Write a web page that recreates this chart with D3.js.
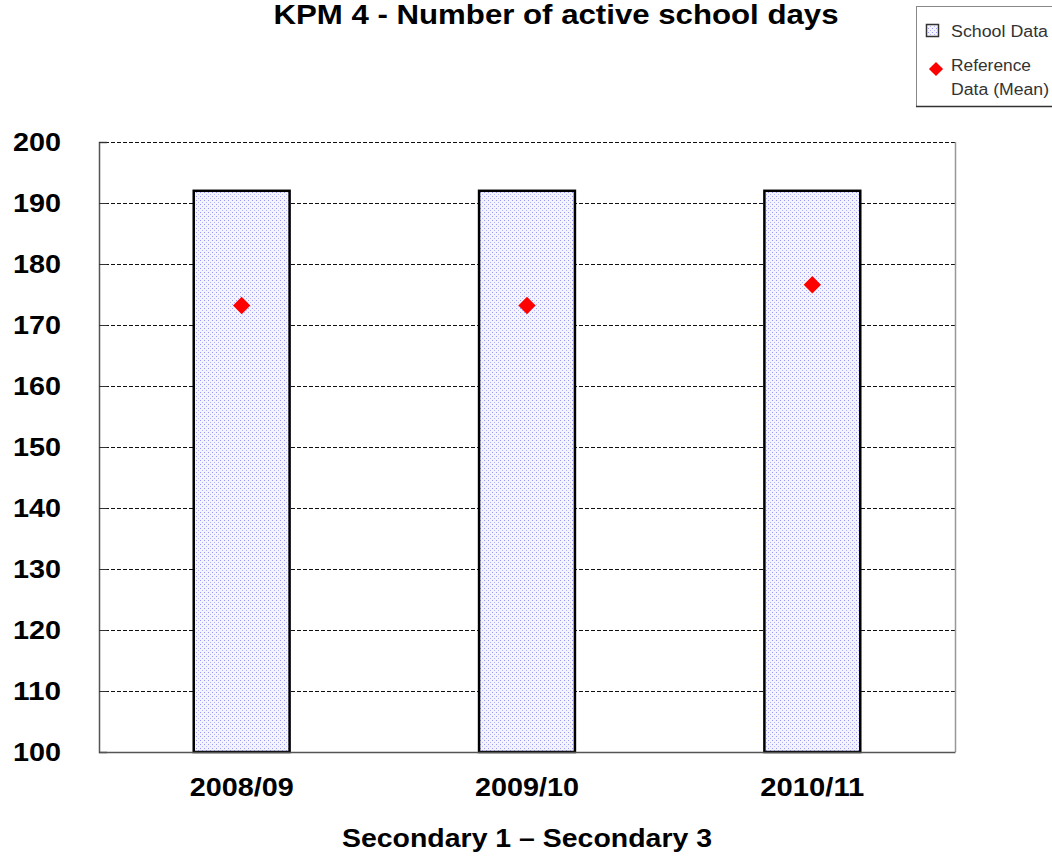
<!DOCTYPE html>
<html>
<head>
<meta charset="utf-8">
<script src="https://cdn.jsdelivr.net/npm/d3@7"></script>
<style>
  body { margin: 0; background: #fff; }
  text { font-family: Arial, "Liberation Sans", sans-serif; }
</style>
</head>
<body>
<div id="chart"></div>
<script>
const width = 1052;
const height = 856;
const margins = { top: 142, left: 99, bottom: 104, right: 97 };

// data
const years = ['2008/09', '2009/10', '2010/11'];
const schoolDays = [192, 192, 192];
const referenceMean = [173.2, 173.2, 176.6];
const yTicks = [100, 110, 120, 130, 140, 150, 160, 170, 180, 190, 200];

const svg = d3.select('#chart')
    .append('svg')
    .attr('width', width)
    .attr('height', height);

// dotted fill for the bars
const defs = svg.append('defs');
const pattern = defs.append('pattern')
    .attr('id', 'dots')
    .attr('patternUnits', 'userSpaceOnUse')
    .attr('width', 4)
    .attr('height', 4);
pattern.append('rect').attr('width', 4).attr('height', 4).attr('fill', '#f4f4ff');
pattern.append('rect').attr('x', 0).attr('y', 0).attr('width', 1).attr('height', 1).attr('fill', '#9a9af5');
pattern.append('rect').attr('x', 2).attr('y', 2).attr('width', 1).attr('height', 1).attr('fill', '#b4b4f8');

const x = d3.scaleBand()
    .domain(years)
    .range([margins.left, width - margins.right])
    .paddingInner(0.664)
    .paddingOuter(0.332);

const y = d3.scaleLinear()
    .domain([100, 200])
    .range([height - margins.bottom, margins.top]);

// grid lines
svg.append('g')
    .selectAll('line')
    .data(yTicks.slice(1))
    .enter()
    .append('line')
    .attr('x1', margins.left)
    .attr('x2', width - margins.right)
    .attr('y1', d => y(d) + 0.5)
    .attr('y2', d => y(d) + 0.5)
    .attr('stroke', '#111')
    .attr('stroke-width', 1)
    .attr('stroke-dasharray', '4,2');

// right border
svg.append('line')
    .attr('x1', width - margins.right + 0.5)
    .attr('x2', width - margins.right + 0.5)
    .attr('y1', margins.top)
    .attr('y2', height - margins.bottom)
    .attr('stroke', '#999')
    .attr('stroke-width', 1.5);

// bars
svg.append('g')
    .selectAll('rect')
    .data(years)
    .enter()
    .append('rect')
    .attr('x', d => x(d))
    .attr('y', (d, i) => y(schoolDays[i]))
    .attr('width', x.bandwidth())
    .attr('height', (d, i) => y(100) - y(schoolDays[i]))
    .attr('fill', 'url(#dots)')
    .attr('stroke', '#000')
    .attr('stroke-width', 2.5);

// reference diamonds
svg.append('g')
    .selectAll('path')
    .data(years)
    .enter()
    .append('path')
    .attr('d', d3.symbol().type(d3.symbolSquare).size(150))
    .attr('transform', (d, i) => `translate(${x(d) + x.bandwidth() / 2},${y(referenceMean[i])}) rotate(45)`)
    .attr('fill', '#ff0000');

// y axis
const yAxis = svg.append('g')
    .attr('transform', `translate(${margins.left},0)`)
    .call(d3.axisLeft(y).tickValues(yTicks).tickSize(-8).tickPadding(38));
yAxis.select('.domain').attr('stroke', '#555').attr('stroke-width', 1.5);
yAxis.selectAll('.tick line').attr('stroke', '#333');
yAxis.selectAll('text')
    .attr('font-size', '26px')
    .attr('font-weight', 'bold')
    .attr('fill', '#000')
    .attr('textLength', 48)
    .attr('lengthAdjust', 'spacingAndGlyphs');

// x axis
const xAxis = svg.append('g')
    .attr('transform', `translate(0,${height - margins.bottom})`)
    .call(d3.axisBottom(x).tickSize(0).tickPadding(26));
xAxis.select('.domain').attr('stroke', '#555').attr('stroke-width', 1.5);
xAxis.selectAll('text')
    .attr('font-size', '26px')
    .attr('font-weight', 'bold')
    .attr('fill', '#000')
    .attr('textLength', 104)
    .attr('lengthAdjust', 'spacingAndGlyphs');

// titles
svg.append('text')
    .attr('x', 556)
    .attr('y', 23.5)
    .attr('text-anchor', 'middle')
    .attr('font-size', '28px')
    .attr('font-weight', 'bold')
    .attr('textLength', 565)
    .attr('lengthAdjust', 'spacingAndGlyphs')
    .text('KPM 4 - Number of active school days');

svg.append('text')
    .attr('x', 527)
    .attr('y', 847)
    .attr('text-anchor', 'middle')
    .attr('font-size', '26px')
    .attr('font-weight', 'bold')
    .attr('textLength', 370)
    .attr('lengthAdjust', 'spacingAndGlyphs')
    .text('Secondary 1 \u2013 Secondary 3');

// legend
const legend = svg.append('g').attr('id', 'legend');
legend.append('rect')
    .attr('x', 916.5)
    .attr('y', 6.5)
    .attr('width', 150)
    .attr('height', 100)
    .attr('fill', '#fff')
    .attr('stroke', '#888')
    .attr('stroke-width', 1);
legend.append('line')
    .attr('x1', 916).attr('x2', 1052)
    .attr('y1', 106.5).attr('y2', 106.5)
    .attr('stroke', '#333').attr('stroke-width', 1.5);
legend.append('rect')
    .attr('x', 926.5)
    .attr('y', 24.5)
    .attr('width', 12)
    .attr('height', 12)
    .attr('fill', 'url(#dots)')
    .attr('stroke', '#333')
    .attr('stroke-width', 1.5);

const legendLabels = [
    { text: 'School Data', y: 37, len: 97 },
    { text: 'Reference', y: 71, len: 80 },
    { text: 'Data (Mean)', y: 95, len: 98 }
];
legend.selectAll('text.lbl')
    .data(legendLabels)
    .enter()
    .append('text')
    .attr('class', 'lbl')
    .attr('x', 951)
    .attr('y', d => d.y)
    .attr('font-size', '16px')
    .attr('fill', '#333')
    .attr('textLength', d => d.len)
    .attr('lengthAdjust', 'spacingAndGlyphs')
    .text(d => d.text);

legend.append('path')
    .attr('d', d3.symbol().type(d3.symbolSquare).size(100))
    .attr('transform', 'translate(936,69) rotate(45)')
    .attr('fill', '#ff0000');
</script>
</body>
</html>
